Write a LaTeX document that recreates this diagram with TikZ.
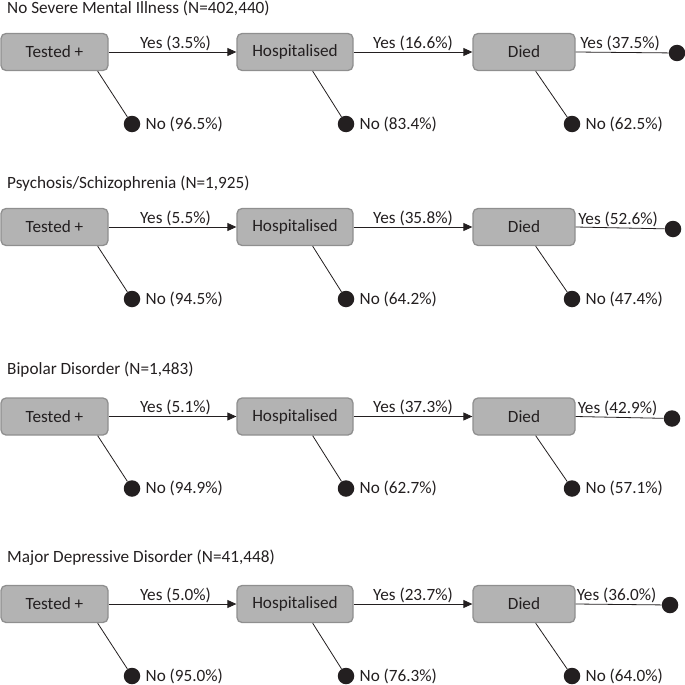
\documentclass[tikz,border=0pt]{standalone}
\usepackage{fontspec}
\setmainfont{Carlito}
\usetikzlibrary{arrows.meta,positioning}
\definecolor{boxfill}{HTML}{B3B3B3}
\definecolor{boxline}{HTML}{8F8F8F}
\definecolor{txt}{HTML}{231F20}
\begin{document}
\begin{tikzpicture}[x=1pt,y=-1pt,
  every node/.style={font=\fontsize{17.2}{20}\selectfont, text=txt},
  stagebox/.style={draw=boxline, fill=boxfill, rounded corners=5pt, line width=1.3pt, minimum height=37pt, inner sep=0pt},
  enddot/.style={circle, fill=txt, minimum size=16.5pt, inner sep=0pt},
  link/.style={draw=txt, line width=0.8pt},
  arrowlink/.style={link, -{Triangle[length=9pt,width=8pt]}},
  yeslbl/.style={above, inner sep=1pt},
  nolbl/.style={right, inner sep=2pt, xshift=3pt},
  ttl/.style={anchor=west, inner sep=0pt}]
\useasboundingbox (0,0) rectangle (685,685);
\foreach \k/\cy/\ty/\dx/\dy/\ttext/\pa/\pb/\pc/\na/\nb/\nc in {
  1/52/8/677/53/{No Severe Mental Illness (N=402,440)}/3.5/16.6/37.5/96.5/83.4/62.5,
  2/227/184/673/229/{Psychosis/Schizophrenia (N=1,925)}/5.5/35.8/52.6/94.5/64.2/47.4,
  3/416.5/370/672/418.5/{Bipolar Disorder (N=1,483)}/5.1/37.3/42.9/94.9/62.7/57.1,
  4/604/558/670/605/{Major Depressive Disorder (N=41,448)}/5.0/23.7/36.0/95.0/76.3/64.0}{
  \node[ttl] (t\k) at (7,\ty) {\ttext};
  \node[stagebox, minimum width=107pt] (a\k) at (54.5,\cy) {Tested +};
  \node[stagebox, minimum width=116pt] (h\k) at (295,\cy) {Hospitalised};
  \node[stagebox, minimum width=102pt] (d\k) at (524,\cy) {Died};
  \node[enddot] (e\k) at (\dx,\dy) {};
  \node[enddot] (na\k) at (132,\cy+72) {};
  \node[enddot] (nb\k) at (346,\cy+72) {};
  \node[enddot] (nc\k) at (572,\cy+72) {};
  \draw[arrowlink] (a\k.east) -- (h\k.west) node[yeslbl, midway, xshift=3pt] (ya\k) {Yes (\pa\%)};
  \draw[arrowlink] (h\k.east) -- (d\k.west) node[yeslbl, midway] (yb\k) {Yes (\pb\%)};
  \draw[link] (d\k.east) -- (e\k) node[yeslbl, midway, xshift=-2pt] (yc\k) {Yes (\pc\%)};
  \draw[link] ([xshift=-11pt]a\k.south east) -- (na\k);
  \draw[link] ([xshift=-41pt]h\k.south east) -- (nb\k);
  \draw[link] ([xshift=-40pt]d\k.south east) -- (nc\k);
  \node[nolbl] (la\k) at (na\k.east) {No (\na\%)};
  \node[nolbl] (lb\k) at (nb\k.east) {No (\nb\%)};
  \node[nolbl] (lc\k) at (nc\k.east) {No (\nc\%)};
}
\end{tikzpicture}
\end{document}
